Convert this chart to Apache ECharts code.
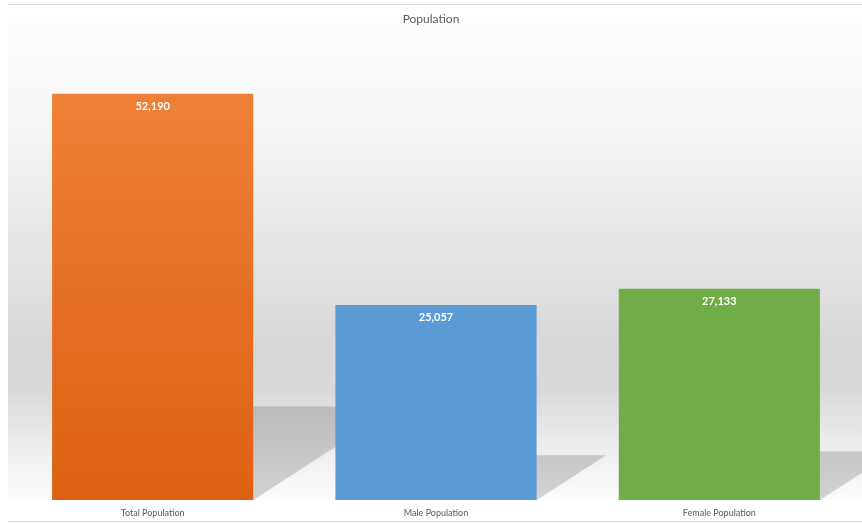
<!DOCTYPE html>
<html>
<head>
<meta charset="utf-8">
<title>Population</title>
<script src="https://cdn.jsdelivr.net/npm/echarts@6/dist/echarts.min.js"></script>
<style>
  html, body { margin: 0; padding: 0; background: #ffffff; }
  #chart { width: 862px; height: 523px; }
</style>
</head>
<body>
<div id="chart"></div>
<script>
// Population breakdown
const categories = ['Total Population', 'Male Population', 'Female Population'];
const populationValues = [52190, 25057, 27133];
const valueLabels = ['52,190', '25,057', '27,133'];

const FONT = 'Lato, "Open Sans", sans-serif';
const BAR_RATIO = 0.71;      // bar width relative to category band
const SHADOW_HEIGHT = 0.23;  // shadow height relative to bar height
const SHADOW_SKEW = 1.55;    // horizontal shift per px of shadow height

const barFills = [
  new echarts.graphic.LinearGradient(0, 0, 0, 1, [
    { offset: 0, color: '#ee8035' },
    { offset: 1, color: '#dc6113' }
  ]),
  '#5b9bd5',
  '#70ad47'
];

const chart = echarts.init(document.getElementById('chart'), null, { renderer: 'canvas' });

// perspective shadow cast to the right of each bar
function renderShadow(params, api) {
  const idx = api.value(0);
  const top = api.coord([idx, api.value(1)]);
  const base = api.coord([idx, 0]);
  const band = api.size([1, 0])[0];
  const half = band * BAR_RATIO / 2;
  const x0 = top[0] - half;
  const x1 = top[0] + half;
  const hs = (base[1] - top[1]) * SHADOW_HEIGHT;
  const sh = hs * SHADOW_SKEW;
  return {
    type: 'polygon',
    shape: {
      points: [
        [x0, base[1]],
        [x1, base[1]],
        [x1 + sh, base[1] - hs],
        [x0 + sh, base[1] - hs]
      ]
    },
    style: {
      fill: 'rgba(0,0,0,0.15)',
      shadowBlur: 3,
      shadowColor: 'rgba(0,0,0,0.12)'
    }
  };
}

chart.setOption({
  animation: false,
  backgroundColor: '#ffffff',
  title: {
    text: 'Population',
    left: 'center',
    top: 8,
    textStyle: { fontFamily: FONT, fontSize: 12, fontWeight: 'normal', color: '#595959' }
  },
  graphic: [
    {
      type: 'rect',
      z: -10,
      silent: true,
      shape: { x: 8, y: 23, width: 854, height: 477 },
      style: {
        fill: new echarts.graphic.LinearGradient(0, 0, 0, 1, [
          { offset: 0, color: '#fdfdfd' },
          { offset: 0.16, color: '#f8f8f8' },
          { offset: 0.37, color: '#ececec' },
          { offset: 0.55, color: '#e0e0e0' },
          { offset: 0.68, color: '#d7d7d7' },
          { offset: 0.77, color: '#d9d9d9' },
          { offset: 0.88, color: '#ececec' },
          { offset: 1, color: '#fcfcfc' }
        ])
      }
    },
    {
      type: 'line',
      silent: true,
      shape: { x1: 8, y1: 4.5, x2: 862, y2: 4.5 },
      style: { stroke: '#dedede', lineWidth: 1 }
    },
    {
      type: 'line',
      silent: true,
      shape: { x1: 8, y1: 521.5, x2: 862, y2: 521.5 },
      style: { stroke: '#dedede', lineWidth: 1 }
    }
  ],
  grid: { left: 11, right: 1, top: 33, bottom: 23, containLabel: false },
  xAxis: {
    type: 'category',
    data: categories,
    axisLine: { show: false },
    axisTick: { show: false },
    axisLabel: { fontFamily: FONT, fontSize: 9, color: '#595959', margin: 9 },
    splitLine: { show: false }
  },
  yAxis: {
    type: 'value',
    min: 0,
    max: 60000,
    show: false,
    splitLine: { show: false }
  },
  series: [
    {
      type: 'custom',
      z: 1,
      silent: true,
      renderItem: renderShadow,
      data: populationValues.map((v, i) => [i, v])
    },
    {
      type: 'bar',
      z: 3,
      barWidth: (BAR_RATIO * 100) + '%',
      data: populationValues.map((v, i) => ({ value: v, itemStyle: { color: barFills[i] } })),
      label: {
        show: true,
        position: 'insideTop',
        distance: 7,
        fontFamily: FONT,
        fontSize: 11,
        fontWeight: 'bold',
        color: '#ffffff',
        formatter: (p) => valueLabels[p.dataIndex]
      }
    }
  ]
});
</script>
</body>
</html>
